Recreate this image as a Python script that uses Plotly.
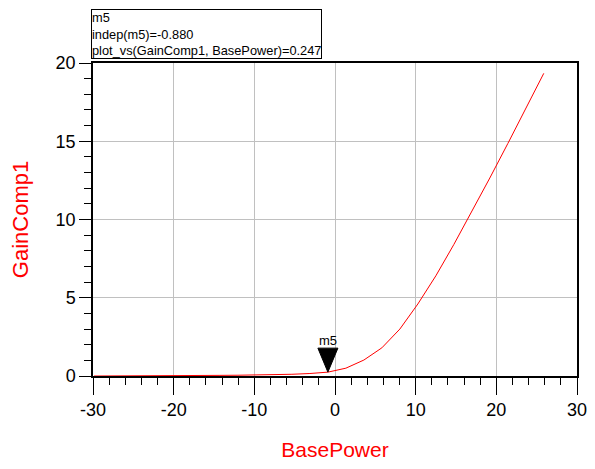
import plotly.graph_objects as go

# Data
base_power = [-29.87, -27.64, -25.41, -23.18, -20.95, -18.72, -16.49, -14.26, -12.03,
              -9.80, -7.57, -5.34, -3.11, -0.88, 1.35, 3.58, 5.81, 8.04, 10.27,
              12.50, 14.73, 16.96, 19.19, 21.42, 23.65, 25.88]
gain_comp1 = [0.0, 0.0, 0.0, 0.0, 0.005, 0.01, 0.02, 0.04, 0.05,
              0.06, 0.08, 0.11, 0.16, 0.247, 0.5, 1.02, 1.8, 3.0, 4.6,
              6.4, 8.4, 10.5, 12.65, 14.85, 17.1, 19.34]

marker_name = "m5"
marker_x = [-0.88]
marker_y = [0.247]

x_ticks = [-30, -20, -10, 0, 10, 20, 30]
x_ticklabels = ["-30", "-20", "-10", "0", "10", "20", "30"]
y_ticks = [0, 5, 10, 15, 20]
y_ticklabels = ["0", "5", "10", "15", "20"]

fig = go.Figure()
fig.add_trace(go.Scatter(x=base_power, y=gain_comp1, mode="lines",
                         line=dict(color="#ff0000", width=1), showlegend=False,
                         hoverinfo="x+y"))

# marker triangle (pixel-sized, anchored at the marker data point)
fig.add_shape(type="path", xref="x", yref="y",
              xsizemode="pixel", ysizemode="pixel",
              xanchor=marker_x[0], yanchor=marker_y[0],
              path="M -10,24 L 10,24 L 0,0 Z",
              fillcolor="black", line=dict(color="black", width=1))
fig.add_annotation(x=marker_x[0], y=marker_y[0], xref="x", yref="y",
                   text=marker_name, showarrow=False, yanchor="bottom",
                   yshift=22, font=dict(family="Liberation Sans", size=13, color="black"))

# marker readout box
readout = (f"{marker_name}<br>indep({marker_name})={marker_x[0]:.3f}<br>"
           f"plot_vs(GainComp1, BasePower)={marker_y[0]:.3f}")
fig.add_annotation(x=-0.004, y=1.174, xref="paper", yref="paper",
                   xanchor="left", yanchor="top", align="left",
                   text=readout, showarrow=False,
                   bordercolor="black", borderwidth=1, borderpad=0,
                   bgcolor="white",
                   font=dict(family="Liberation Sans", size=12.8, color="black"))

axis_common = dict(showline=True, linecolor="black", linewidth=1.5, mirror=True,
                   showgrid=True, gridcolor="#c0c0c0", gridwidth=1,
                   zeroline=False, ticks="outside", tickcolor="black", tickwidth=1,
                   tickfont=dict(family="Liberation Sans", size=18, color="black"))

fig.update_xaxes(range=[-30, 30], tickvals=x_ticks, ticktext=x_ticklabels, ticklen=17,
                 minor=dict(dtick=2, ticks="outside", ticklen=7, tickcolor="black",
                            showgrid=False),
                 title=dict(text="BasePower", standoff=23,
                            font=dict(family="Liberation Sans", size=21, color="#ff0000")),
                 **axis_common)
fig.update_yaxes(range=[0, 20], tickvals=y_ticks, ticktext=y_ticklabels, ticklen=12,
                 minor=dict(dtick=1, ticks="outside", ticklen=7, tickcolor="black",
                            showgrid=False),
                 title=dict(text="GainComp1", standoff=22,
                            font=dict(family="Liberation Sans", size=22, color="#ff0000")),
                 **axis_common)

fig.update_layout(width=595, height=469,
                  margin=dict(l=85, r=26, t=55, b=101, autoexpand=False),
                  paper_bgcolor="white", plot_bgcolor="white")

fig.write_html("out.html")
